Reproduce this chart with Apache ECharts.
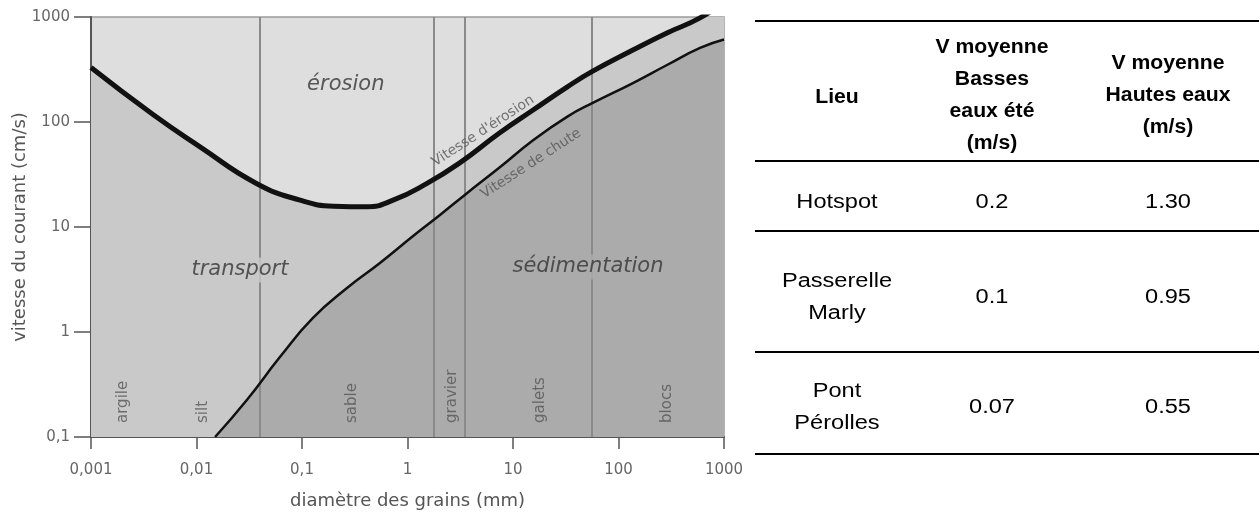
<!DOCTYPE html>
<html>
<head>
<meta charset="utf-8">
<script src="https://cdn.jsdelivr.net/npm/echarts@6/dist/echarts.min.js"></script>
<style>
html,body{margin:0;padding:0;background:#fff;}
#c{width:1259px;height:513px;}
</style>
</head>
<body>
<div id="c"></div>
<script>
// ---- Data (Hjulström diagram) ----
const erosionX = [0.001, 0.0039, 0.0108, 0.037, 0.096, 0.2, 0.41, 0.73, 1.53, 3.15, 7.5, 15.5, 32.5, 57, 137, 288, 593, 1000];
const erosionY = [330, 117, 58, 26, 18, 15.8, 15.6, 18, 26, 41, 79, 130, 215, 305, 485, 705, 980, 1400];
const fallX = [0.015, 0.030, 0.062, 0.127, 0.267, 0.548, 1.13, 2.03, 3.66, 7.5, 15.5, 32.5, 57, 137, 288, 593, 1000];
const fallY = [0.1, 0.225, 0.58, 1.36, 2.62, 4.54, 8.2, 13, 21, 37, 67, 112, 152, 235, 349, 507, 610];
const classBounds = [0.0038, 0.038, 1.78, 3.5, 56];
const classNames = ['argile', 'silt', 'sable', 'gravier', 'galets', 'blocs'];
const classLabelX = [0.002, 0.0115, 0.298, 2.64, 18, 288];
const zoneNames = ['érosion', 'transport', 'sédimentation'];
const zoneX = [0.26, 0.0258, 51.4];
const zoneY = [225, 3.9, 4.16];
const curveNames = ["Vitesse d'érosion", 'Vitesse de chute'];
const curveLabelX = [5.2, 14.8];
const curveLabelY = [82, 40];
const xTicks = ['0,001', '0,01', '0,1', '1', '10', '100', '1000'];
const yTicks = ['0,1', '1', '10', '100', '1000'];

// ---- Table data ----
const tableHeader = ['Lieu', 'V moyenne\nBasses\neaux été\n(m/s)', 'V moyenne\nHautes eaux\n(m/s)'];
const places = ['Hotspot', 'Passerelle\nMarly', 'Pont\nPérolles'];
const vLow = ['0.2', '0.1', '0.07'];
const vHigh = ['1.30', '0.95', '0.55'];

const pair = (xs, ys) => xs.map((x, i) => [x, ys[i]]);
const fmt = v => String(v).replace('.', ',');

const chart = echarts.init(document.getElementById('c'), null, {renderer: 'canvas'});

const annot = [];
const zoneBg = ['transparent', '#c9c9c9', '#ababab'];
zoneNames.forEach((n, i) => annot.push({
  value: [zoneX[i], zoneY[i]],
  label: {show: true, formatter: n, fontSize: 21, fontStyle: 'italic', fontFamily: 'DejaVu Sans', color: '#353535',
    backgroundColor: zoneBg[i], padding: [2, 6]}
}));
classNames.forEach((n, i) => annot.push({
  value: [classLabelX[i], 0.136],
  label: {show: true, formatter: n, rotate: 90, align: 'left', verticalAlign: 'middle', fontSize: 15,
    fontFamily: 'DejaVu Sans', color: '#555'}
}));
curveNames.forEach((n, i) => annot.push({
  value: [curveLabelX[i], curveLabelY[i]],
  label: {show: true, formatter: n, rotate: 33, align: 'center', verticalAlign: 'middle', fontSize: 14,
    fontFamily: 'DejaVu Sans', color: '#555'}
}));

// table graphics
const tLeft = 755, tRight = 1259;
const lineYs = [21, 161, 231, 352, 454];
const colX = [837, 992, 1168];
const headerY = [97, 95, 95];
const rowY = [202, 297, 407];
const graphics = [];
lineYs.forEach(y => graphics.push({type: 'line', shape: {x1: tLeft, y1: y, x2: tRight, y2: y}, style: {stroke: '#000', lineWidth: 2.2}}));
const txt = (s, x, y, bold) => ({
  type: 'text', x: x, y: y, scaleX: bold ? 1.06 : 1.18, style: {
    text: s, x: 0, y: 0, textAlign: 'center', textVerticalAlign: 'middle',
    font: (bold ? 'bold ' : '') + '20px "Liberation Sans", Arial', fill: '#000', lineHeight: 32
  }
});
tableHeader.forEach((h, i) => graphics.push(txt(h, colX[i], headerY[i], true)));
places.forEach((p, r) => {
  graphics.push(txt(p, colX[0], rowY[r], false));
  graphics.push(txt(vLow[r], colX[1], rowY[r], false));
  graphics.push(txt(vHigh[r], colX[2], rowY[r], false));
});

chart.setOption({
  animation: false,
  backgroundColor: '#fff',
  grid: {left: 91, right: 535, top: 17, bottom: 76, containLabel: false, outerBoundsMode: 'none',
    show: true, backgroundColor: '#dedede', borderColor: '#9a9a9a', borderWidth: 1.5},
  xAxis: {
    type: 'log', logBase: 10, min: 0.001, max: 1000,
    name: 'diamètre des grains (mm)', nameLocation: 'middle', nameGap: 55, nameMoveOverlap: false,
    nameTextStyle: {fontSize: 18, color: '#555', fontFamily: 'DejaVu Sans'},
    axisLine: {show: true, lineStyle: {color: '#555', width: 2}},
    axisTick: {show: true, length: 12, lineStyle: {color: '#555', width: 1.5}},
    axisLabel: {formatter: fmt, fontSize: 15, color: '#666', fontFamily: 'DejaVu Sans', margin: 26},
    splitLine: {show: false}, minorTick: {show: false}
  },
  yAxis: {
    type: 'log', logBase: 10, min: 0.1, max: 1000,
    name: 'vitesse du courant (cm/s)', nameLocation: 'middle', nameGap: 62, nameMoveOverlap: false,
    nameTextStyle: {fontSize: 18, color: '#555', fontFamily: 'DejaVu Sans'},
    axisLine: {show: true, lineStyle: {color: '#555', width: 2}},
    axisTick: {show: true, length: 17, lineStyle: {color: '#555', width: 1.5}},
    axisLabel: {formatter: fmt, fontSize: 15, color: '#666', fontFamily: 'DejaVu Sans', margin: 21},
    splitLine: {show: false}
  },
  series: [
    {type: 'line', name: 'erosion-area', data: pair(erosionX, erosionY), smooth: 0.5, symbol: 'none',
      lineStyle: {width: 0}, areaStyle: {color: '#c9c9c9', origin: 'start', opacity: 1}, z: 1, silent: true},
    {type: 'line', name: 'fall-area', data: pair(fallX, fallY), smooth: 0.5, symbol: 'none',
      lineStyle: {width: 0}, areaStyle: {color: '#ababab', origin: 'start', opacity: 1}, z: 2, silent: true},
    {type: 'line', name: 'bounds', data: [], symbol: 'none', z: 3,
      markLine: {symbol: 'none', silent: true, label: {show: false},
        lineStyle: {color: '#8a8a8a', width: 2, type: 'solid'},
        data: classBounds.map(b => ({xAxis: b}))}},
    {type: 'line', name: "Vitesse d'érosion", data: pair(erosionX, erosionY), smooth: 0.5, symbol: 'none',
      lineStyle: {width: 5, color: '#111'}, z: 5},
    {type: 'line', name: 'Vitesse de chute', data: pair(fallX, fallY), smooth: 0.5, symbol: 'none',
      lineStyle: {width: 2.5, color: '#111'}, z: 5},
    {type: 'scatter', name: 'labels', data: annot, symbolSize: 0, z: 6, silent: true}
  ],
  graphic: graphics
});
</script>
</body>
</html>
